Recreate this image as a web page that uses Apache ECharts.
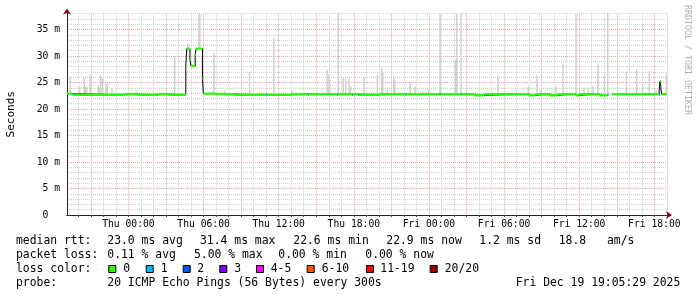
<!DOCTYPE html>
<html><head><meta charset="utf-8">
<script src="https://cdn.jsdelivr.net/npm/echarts@6/dist/echarts.min.js"></script>
<style>html,body{margin:0;padding:0;background:#fff}#c{width:697px;height:297px}</style>
</head><body><div id="c"></div>
<script>
// ---- time window: hours relative to Thu 00:00 ----
const X_MIN = -4.908;   // Wed 19:05:29
const X_MAX = 43.092;   // Fri 19:05:29
const Y_MIN = 0;
const Y_MAX = 38;       // ms
const DATA_END = 42.97;

const xGridHours = [-4,-3,-2,-1,0,1,2,3,4,5,6,7,8,9,10,11,12,13,14,15,16,17,18,19,20,21,22,23,24,25,26,27,28,29,30,31,32,33,34,35,36,37,38,39,40,41,42,43];
const xLabelHours = [0,6,12,18,24,30,36,42];
const xLabelTexts = ['Thu 00:00','Thu 06:00','Thu 12:00','Thu 18:00','Fri 00:00','Fri 06:00','Fri 12:00','Fri 18:00'];
const yLabelValues = [0,5,10,15,20,25,30,35];
const yLabelTexts = ['0  ','5 m','10 m','15 m','20 m','25 m','30 m','35 m'];

// median rtt change points: [hour, ms, lost pings]
const medianPoints = [
  [-4.91,22.9,0],[-4.51,22.8,1],[-4.43,22.7,0],[-0.45,22.8,0],[0.70,22.7,0],[2.40,22.8,0],[3.20,22.7,0],
  [4.58,28.3,0],[4.66,31.4,0],[4.91,29.4,0],[5.00,28.1,0],[5.33,30.2,0],[5.41,31.4,0],[5.91,25.8,0],
  [5.98,22.9,0],[7.00,22.8,0],[8.50,22.7,0],[10.98,22.8,1],[11.06,22.7,0],[13.00,22.8,0],
  [14.33,22.7,1],[14.41,22.8,0],[16.66,22.7,1],[16.74,22.8,0],[17.86,22.7,1],[17.94,22.8,0],
  [18.34,22.7,1],[18.42,22.7,0],[20.00,22.8,0],[22.13,22.7,1],[22.21,22.8,0],[24.85,22.8,1],
  [24.93,22.8,0],[26.53,22.8,1],[26.61,22.8,0],[27.60,22.6,0],[28.40,22.8,0],[31.95,22.6,0],
  [32.50,22.8,0],[33.60,22.6,0],[34.30,22.8,0],[35.70,22.6,0],[36.00,22.8,0],[37.60,22.6,0],
  [38.26,22.7,1],[38.34,null,20],[38.65,22.8,0],[41.86,22.7,1],[41.94,22.8,0],[42.37,22.7,1],
  [42.45,25.2,0],[42.50,24.3,0],[42.58,22.8,0]
];

// smoke: highest ping per sample [hour, ms]
const smokeTops = [
  [-4.67,26.1],[-3.91,24.3],[-3.55,25.9],[-3.43,24.2],[-3.35,24.2],[-3.07,26.4],[-2.43,24.5],[-2.35,24.0],
  [-2.25,26.4],[-2.11,25.8],[-1.79,25.0],[-1.71,24.6],[-1.34,23.8],[0.61,23.6],[3.67,29.9],[4.74,32.4],
  [5.61,37.9],[5.69,37.9],[6.82,30.5],[7.69,23.5],[9.65,27.0],[11.59,33.3],[13.01,23.6],[15.85,27.4],
  [15.93,26.5],[16.05,25.5],[16.74,38],[17.13,25.8],[17.33,25.8],[17.59,25.8],[17.73,24.3],[18.79,26.1],
  [19.86,26.4],[20.21,27.7],[20.29,26.8],[20.66,23.6],[21.17,26.1],[21.25,25.5],[22.49,25.0],[22.89,24.2],
  [23.46,23.3],[23.94,23.5],[24.87,38],[26.09,29.2],[26.17,29.2],[26.21,38],[26.55,38],[29.49,26.4],
  [31.91,24.3],[32.61,26.4],[32.93,23.7],[34.13,24.2],[34.69,28.5],[35.73,38],[36.37,23.9],[36.69,23.9],
  [37.09,24.2],[37.49,28.6],[37.99,26.5],[38.26,38],[39.75,27.0],[40.58,27.4],[41.06,24.5],[41.57,27.1],
  [42.13,23.6],[42.45,25.5],[42.95,26.7]
];
const SAMPLE_H = 5/60;

const lossLabels = ['0','1','2','3','4-5','6-10','11-19','20/20'];
const lossColors = ['#26ff00','#00b8ff','#0059ff','#7e00ff','#ff00ff','#ff5500','#ff0000','#a10000'];
const lossUpper  = [0,1,2,3,5,10,19,20];

const statsRtt = ['median rtt:','23.0 ms avg','31.4 ms max','22.6 ms min','22.9 ms now','1.2 ms sd','18.8','am/s'];
const statsLoss = ['packet loss:','0.11 % avg','5.00 % max','0.00 % min','0.00 % now'];
const probeTexts = ['probe:','20 ICMP Echo Pings (56 Bytes) every 300s','Fri Dec 19 19:05:29 2025'];
const lossTitle = 'loss color:';
const watermark = 'RRDTOOL / TOBI OETIKER';

// ---- derived ----
function lossClass(n){ for(let i=0;i<lossUpper.length;i++){ if(n<=lossUpper[i]) return i; } return 7; }
function medianAt(t){ let v=null; for(const p of medianPoints){ if(p[0]<=t) v=p[1]; else break; } return v; }

const blackLine = medianPoints.map(p=>[p[0],p[1]]);
blackLine.push([DATA_END, medianPoints[medianPoints.length-1][1]]);

const colorSegs = [];
for(let i=0;i<medianPoints.length;i++){
  const p = medianPoints[i];
  if(p[1]==null) continue;
  const t1 = i+1<medianPoints.length ? medianPoints[i+1][0] : DATA_END;
  colorSegs.push([p[0], t1, p[1], lossClass(p[2])]);
}
const smokeData = smokeTops.map(s=>[s[0], medianAt(s[0]) || 22.8, s[1]]);

const MONO = "'DejaVu Sans Mono', monospace";
const GRAY = '#cfcfcf', RED = '#e8a3a3';

function xLabel(v){ const i = xLabelHours.indexOf(Math.round(v)); return i>=0 ? xLabelTexts[i] : ''; }
function yLabel(v){ const i = yLabelValues.indexOf(Math.round(v)); return i>=0 ? yLabelTexts[i] : ''; }

// ---- legend graphics ----
const LF = 11.4;
const g = [];
function txt(x,y,s,align,extra){ g.push(Object.assign({type:'text', x:x, y:y, silent:true,
  style:{text:s, fill:'#000', font: LF+'px '+MONO, textAlign:align||'left', textVerticalAlign:'middle'}}, extra||{})); }
const rttX = [16,107.3,200,293.3,386.3,479.3,558.7,607];
statsRtt.forEach((s,i)=>txt(rttX[i],241.3,s));
const lossX = [16,107.3,194,278.3,365.3];
statsLoss.forEach((s,i)=>txt(lossX[i],254.7,s));
txt(16,269,lossTitle);
const boxX = [108.3,145.7,182.7,219.3,256,306.7,366,429.7];
const boxLabX = [123.3,160.7,197.3,234.3,270.7,321.7,380.3,444.7];
lossLabels.forEach((l,i)=>{
  g.push({type:'rect', silent:true, shape:{x:boxX[i]+0.5, y:265.5, width:7, height:7}, style:{fill:lossColors[i], stroke:'#000', lineWidth:1}});
  txt(boxLabX[i],269,l);
});
txt(16,283,probeTexts[0]);
txt(107.3,283,probeTexts[1]);
txt(680.3,283,probeTexts[2],'right');
g.push({type:'text', x:687, y:5, rotation:-Math.PI/2, silent:true,
  style:{text:watermark, fill:'#b0b0b0', font:'8.3px '+MONO, textAlign:'left', textVerticalAlign:'middle'}});

const chart = echarts.init(document.getElementById('c'), null, {renderer:'canvas'});
chart.setOption({
  animation:false,
  backgroundColor:'#ffffff',
  grid:{left:67, right:29, top:13.6, bottom:82, containLabel:false, outerBoundsMode:'none'},
  xAxis:[{
    type:'value', min:X_MIN, max:X_MAX,
    axisLine:{show:true, onZero:false, lineStyle:{color:'#222', width:1}},
    axisTick:{show:true, customValues:xGridHours, length:2, lineStyle:{color:'#444'}},
    axisLabel:{customValues:xLabelHours, formatter:xLabel, fontFamily:MONO, fontSize:9.7, color:'#000', margin:4},
    splitLine:{show:true, lineStyle:{color:[GRAY,RED,GRAY], type:[1,1], width:1}}
  },{
    type:'value', min:X_MIN, max:X_MAX, position:'bottom',
    axisLine:{show:true, onZero:false, symbol:['none','arrow'], symbolSize:[6,6], symbolOffset:[0,4],
      lineStyle:{color:'#8b0000', type:[0,1000], width:1}},
    axisTick:{show:false}, axisLabel:{show:false}, splitLine:{show:false}
  }],
  yAxis:[{
    type:'value', min:Y_MIN, max:Y_MAX, interval:1,
    name:'Seconds', nameLocation:'middle', nameGap:50.5, nameRotate:90,
    nameTextStyle:{fontFamily:MONO, fontSize:11, color:'#000'},
    axisLine:{show:true, onZero:false, lineStyle:{color:'#222', width:1}},
    axisTick:{show:false},
    axisLabel:{customValues:yLabelValues, formatter:yLabel, fontFamily:MONO, fontSize:9.7, color:'#000', margin:7},
    splitLine:{show:true, lineStyle:{color:[RED,GRAY,GRAY,GRAY,GRAY], type:[1,1], width:1}}
  },{
    type:'value', min:Y_MIN, max:Y_MAX, position:'left',
    axisLine:{show:true, onZero:false, symbol:['none','arrow'], symbolSize:[6,6], symbolOffset:[0,5],
      lineStyle:{color:'#8b0000', type:[0,1000], width:1}},
    axisTick:{show:false}, axisLabel:{show:false}, splitLine:{show:false}
  }],
  graphic:g,
  series:[
    { type:'custom', name:'smoke', clip:true, z:2, data:smokeData,
      encode:{x:0, y:[1,2]},
      renderItem:function(params, api){
        const t = api.value(0);
        const a = api.coord([t - SAMPLE_H/2, api.value(1)]);
        const b = api.coord([t + SAMPLE_H/2, api.value(2)]);
        const w = Math.max(1.5, b[0]-a[0]);
        return {type:'rect', shape:{x:a[0], y:b[1], width:w, height:a[1]-b[1]}, style:{fill:'#d0d0d0'}};
      }},
    { type:'line', name:'median', data:blackLine, step:'end', symbol:'none', z:3,
      lineStyle:{color:'#000', width:1}, connectNulls:false },
    { type:'custom', name:'loss', clip:true, z:4, data:colorSegs,
      encode:{x:[0,1], y:2},
      renderItem:function(params, api){
        const a = api.coord([api.value(0), api.value(2)]);
        const b = api.coord([api.value(1), api.value(2)]);
        return {type:'rect', shape:{x:a[0], y:a[1]-1.2, width:Math.max(1,b[0]-a[0]), height:2.4},
          style:{fill:lossColors[api.value(3)]}};
      }}
  ]
});
</script>
</body></html>
